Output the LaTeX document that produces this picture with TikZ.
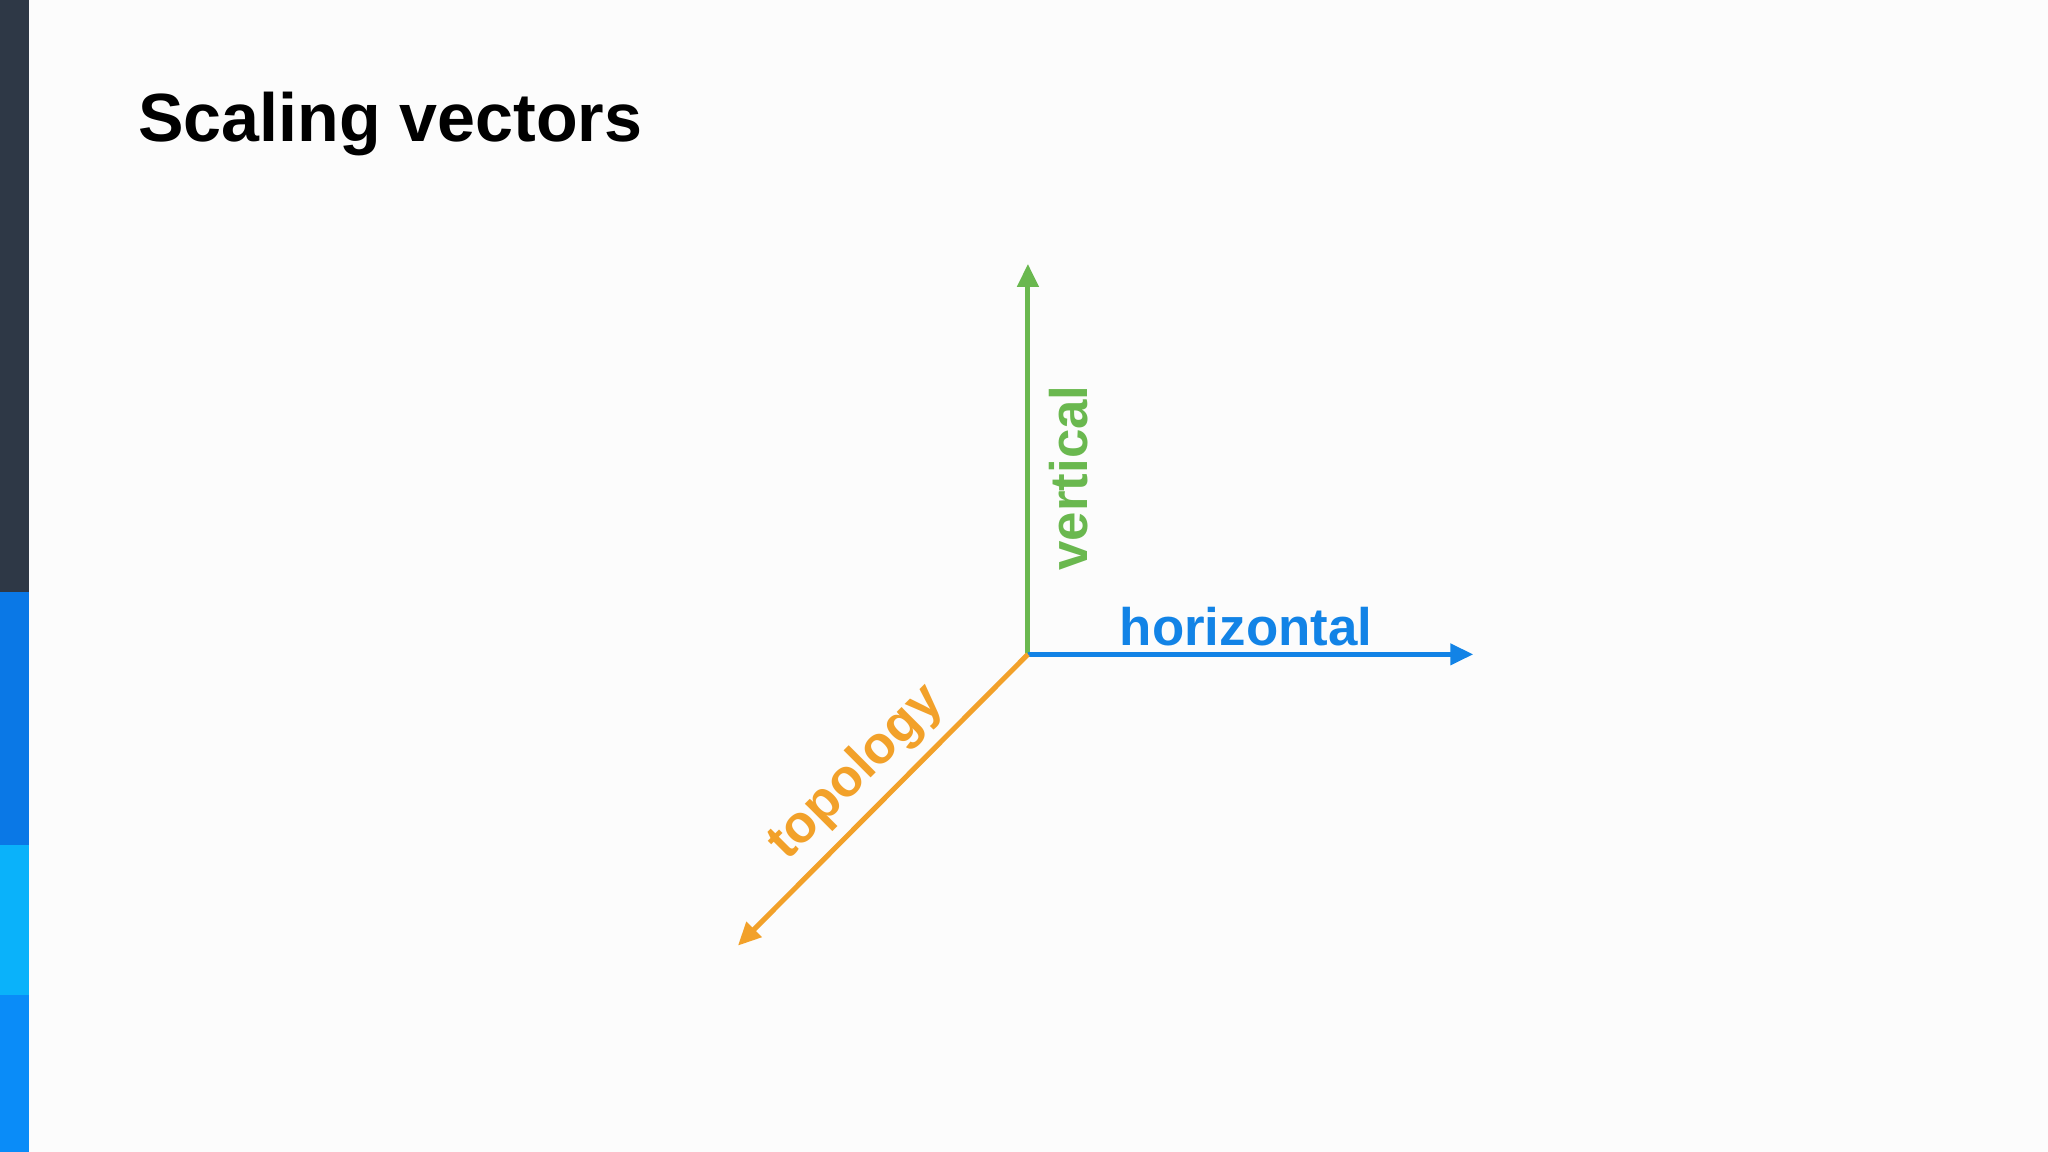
\documentclass[tikz,border=0pt]{standalone}
\usepackage{fontspec}
\setmainfont{Liberation Sans}
\usetikzlibrary{arrows.meta}
\definecolor{cgreen}{HTML}{6AB84F}
\definecolor{cblue}{HTML}{1283E6}
\definecolor{corange}{HTML}{F2A12A}
\definecolor{bdark}{HTML}{2E3846}
\definecolor{bblue}{HTML}{0A78E6}
\definecolor{blight}{HTML}{0AB2FA}
\definecolor{bblue2}{HTML}{0A8CF8}
\begin{document}
\begin{tikzpicture}[x=0.01cm,y=-0.01cm,
  vec/.style={line width=1.1pt,-{Triangle[length=5pt,width=4.5pt]}},
  lab/.style={font=\fontsize{11.5}{14}\selectfont\bfseries,inner sep=0pt}]
\useasboundingbox (0,0) rectangle (1568,882);
\fill[white!98!gray] (0,0) rectangle (1568,882);
\fill[bdark] (0,0) rectangle (22,453);
\fill[bblue] (0,453) rectangle (22,647);
\fill[blight] (0,647) rectangle (22,762);
\fill[bblue2] (0,762) rectangle (22,882);
\node[anchor=west,inner sep=0pt,font=\fontsize{14.85}{18}\selectfont\bfseries] (title) at (105,95) {Scaling vectors};
\coordinate (o) at (787,501);
\coordinate (v) at (787,202);
\coordinate (h) at (1128,501);
\coordinate (t) at (565,724);
\draw[vec,cgreen] (o) -- (v);
\draw[vec,cblue] (o) -- (h);
\draw[vec,corange] (o) -- (t);
\node[lab,cgreen,rotate=90] (vl) at (818,366) {vertical};
\node[lab,cblue] (hl) at (954,480) {horizontal};
\node[lab,corange,rotate=45] (tl) at (656,592) {topology};
\end{tikzpicture}
\end{document}
